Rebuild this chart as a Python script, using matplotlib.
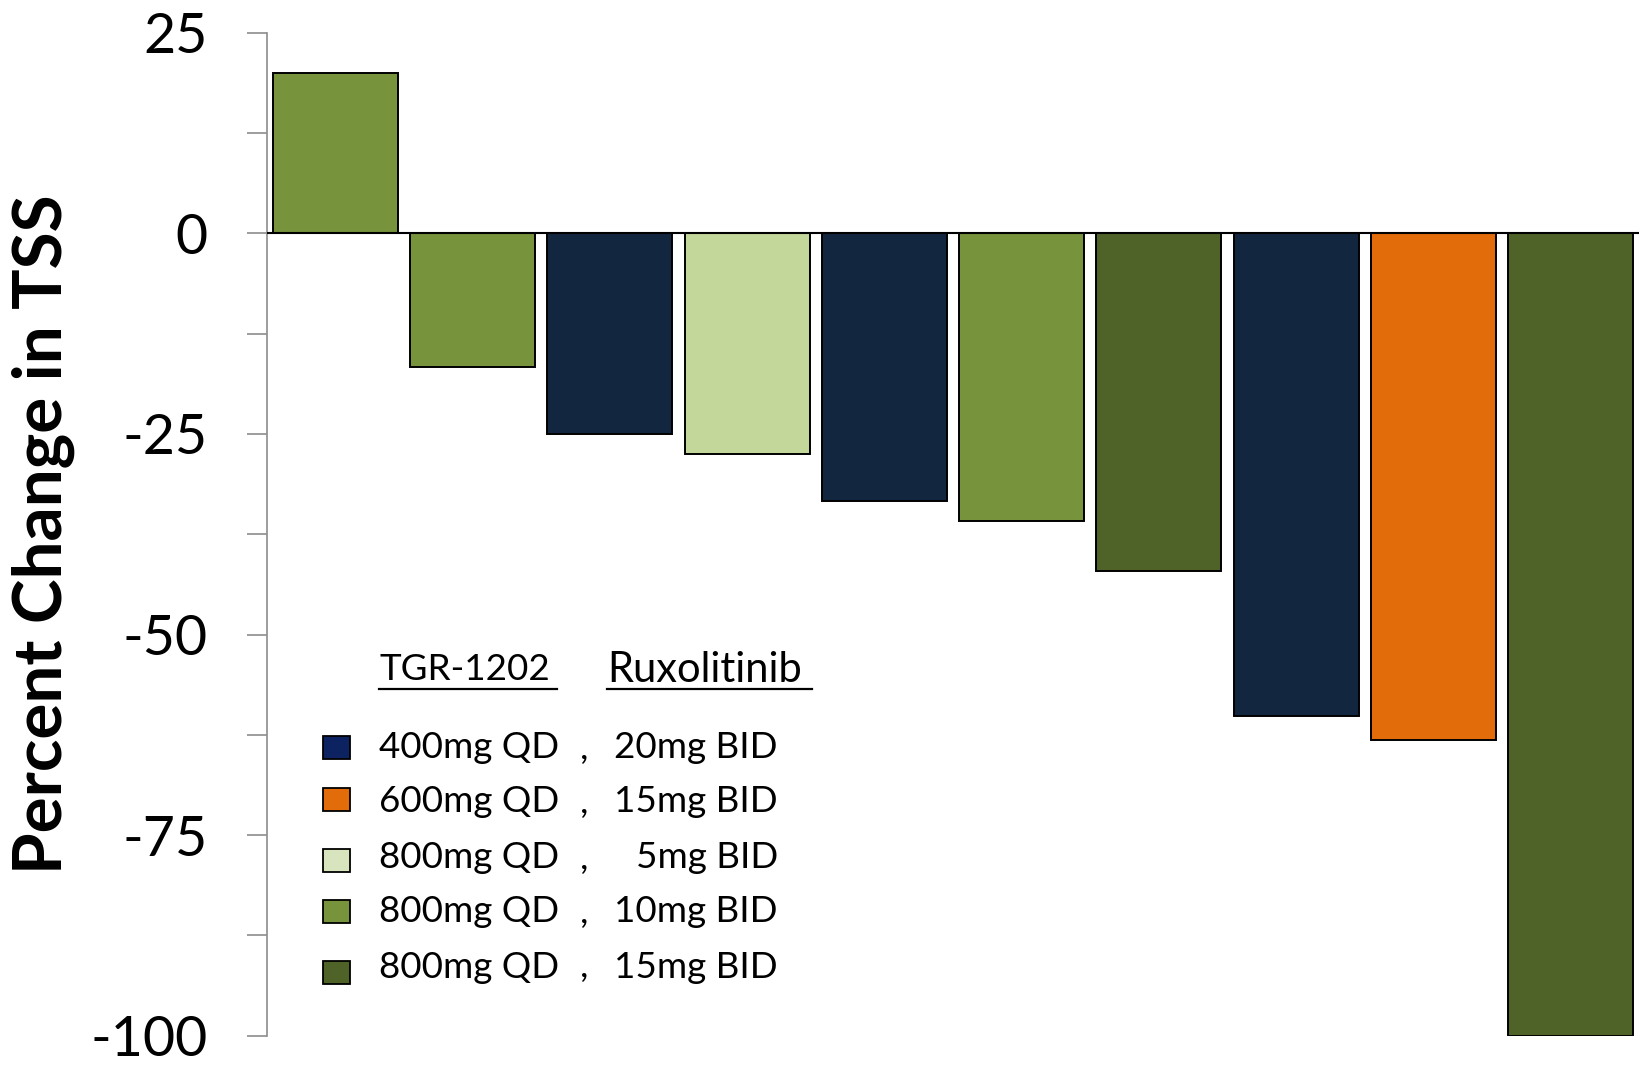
import matplotlib
matplotlib.use("Agg")
import matplotlib.pyplot as plt
from matplotlib.patches import Rectangle
from matplotlib.ticker import MultipleLocator

# Per-patient percent change in TSS, ordered for the waterfall
pct_change = [20, -16.7, -25, -27.5, -33.4, -35.9, -42.1, -60.1, -63.1, -100]
dose_group = [3, 3, 0, 2, 0, 3, 4, 0, 1, 4]

# Dose combinations: TGR-1202 dose, ruxolitinib dose
tgr_doses = ["400mg QD", "600mg QD", "800mg QD", "800mg QD", "800mg QD"]
rux_doses = ["20mg BID", "15mg BID", "5mg BID", "10mg BID", "15mg BID"]
bar_colors = ["#12263f", "#e36c0a", "#c4d79b", "#77933c", "#4f6228"]
key_colors = ["#0c2261", "#e36c0a", "#d7e4bd", "#77933c", "#4f6228"]

y_ticks = [25, 0, -25, -50, -75, -100]

FONT = "Lato"
W, H = 1643, 1066
fig = plt.figure(figsize=(W / 100, H / 100), dpi=100)
ax = fig.add_axes([266.7 / W, 1 - 1035.7 / H, (1639.4 - 266.7) / W, (1035.7 - 32.7) / H])

x = list(range(len(pct_change)))
ax.bar(x, pct_change, width=0.91,
       color=[bar_colors[g] for g in dose_group],
       edgecolor="black", linewidth=1.4, zorder=2)

ax.set_xlim(-0.5, len(pct_change) - 0.5)
ax.set_ylim(-100, 25)
ax.axhline(0, color="black", linewidth=1.5, zorder=3)

axis_gray = "#8c8c8c"
for side in ("top", "right", "bottom"):
    ax.spines[side].set_visible(False)
ax.spines["left"].set_color(axis_gray)
ax.spines["left"].set_linewidth(1.2)
ax.set_xticks([])
ax.set_yticks(y_ticks)
ax.set_yticklabels([str(v) for v in y_ticks], fontfamily=FONT, fontsize=40)
ax.yaxis.set_minor_locator(MultipleLocator(12.5))
ax.tick_params(axis="y", which="both", length=14.4, width=1.2, color=axis_gray,
               direction="out")
ax.tick_params(axis="y", which="major", pad=28)

fig.text(43 / W, 1 - 534 / H, "Percent Change in TSS", rotation=90,
         ha="center", va="center", fontfamily=FONT, fontweight="bold", fontsize=48.5)

# Dose key
def fy(py):
    return 1 - py / H

def fx(px):
    return px / W

KEY_SIZE = 26.5
hdr_y = 670
fig.text(fx(379), fy(hdr_y), "TGR-1202", ha="left", va="center",
         fontfamily=FONT, fontsize=KEY_SIZE)
fig.text(fx(607), fy(hdr_y), "Ruxolitinib", ha="left", va="center",
         fontfamily=FONT, fontsize=30)
fig.add_artist(plt.Line2D([fx(379), fx(557)], [fy(689), fy(689)], color="black", lw=1.6))
fig.add_artist(plt.Line2D([fx(607), fx(812)], [fy(689), fy(689)], color="black", lw=1.6))

row_centers = [748, 802, 858, 912, 967]
square_centers = [747.4, 799.2, 860.4, 911.4, 972.1]
for i, (t, r) in enumerate(zip(tgr_doses, rux_doses)):
    cy = row_centers[i]
    sq_cy = square_centers[i]
    fig.add_artist(Rectangle((fx(323), fy(sq_cy + 11.5)), 27 / W, 23 / H,
                             facecolor=key_colors[i], edgecolor="black", linewidth=1.3))
    fig.text(fx(379), fy(cy), t, ha="left", va="center", fontfamily=FONT, fontsize=KEY_SIZE)
    fig.text(fx(580), fy(cy), ",", ha="left", va="center", fontfamily=FONT, fontsize=KEY_SIZE)
    fig.text(fx(778), fy(cy), r, ha="right", va="center", fontfamily=FONT, fontsize=KEY_SIZE)

fig.savefig("out.png", dpi=100, facecolor="white")
